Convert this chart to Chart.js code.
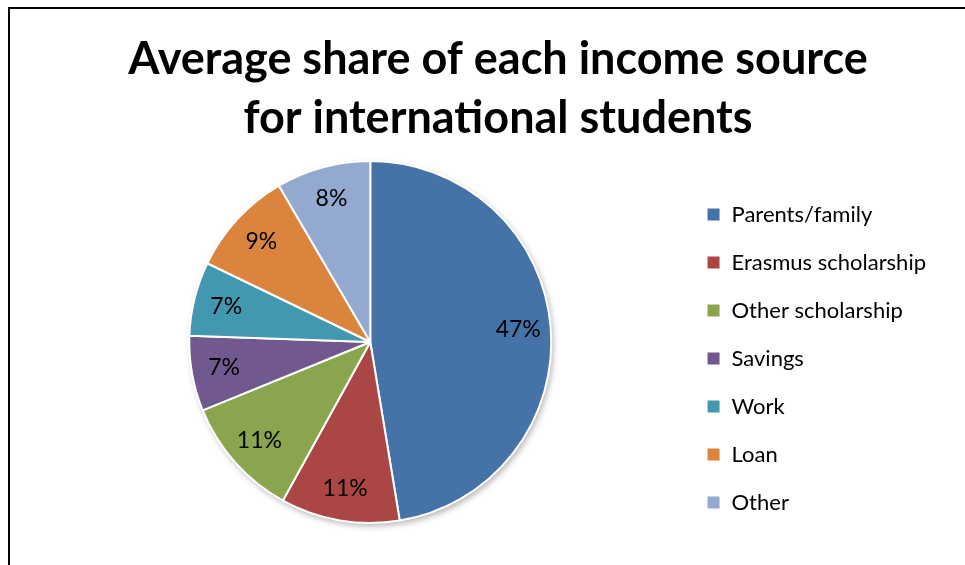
<!DOCTYPE html>
<html>
<head>
<meta charset="utf-8">
<script src="https://cdn.jsdelivr.net/npm/chart.js@4"></script>
<style>
  html, body { margin: 0; padding: 0; background: #fff; overflow: hidden; }
  body { width: 965px; height: 565px; position: relative; }
  #frame { position: absolute; left: 8px; top: 7px; width: 2000px; height: 2000px;
           border-left: 2px solid #000; border-top: 2px solid #000; }
  #chart { position: absolute; left: 10px; top: 0; }
</style>
</head>
<body>
<div id="frame"></div>
<canvas id="chart" width="962" height="565"></canvas>
<script>
const titleLine1 = "Average share of each income source";
const titleLine2 = "for international students";
const sources = ["Parents/family", "Erasmus scholarship", "Other scholarship", "Savings", "Work", "Loan", "Other"];
// shares in %; the labels show them rounded
const shares = [47.3, 10.6, 10.8, 6.7, 6.6, 9.4, 8.4];
const sliceColors = ["#4572A7", "#AA4643", "#89A54E", "#71588F", "#4198AF", "#DB843D", "#93A9CF"];

const fontFamily = "Lato, 'Open Sans', sans-serif";

// soft shadow under the pie, like the office chart
const pieShadow = {
    id: "pieShadow",
    beforeDatasetsDraw(chart) {
        const arc = chart.getDatasetMeta(0).data[0];
        if (!arc) return;
        const { x, y, outerRadius } = arc.getProps(["x", "y", "outerRadius"], true);
        const c = chart.ctx;
        c.save();
        c.shadowColor = "rgba(0,0,0,0.3)";
        c.shadowBlur = 6;
        c.shadowOffsetX = 2;
        c.shadowOffsetY = 3;
        c.fillStyle = "#fff";
        c.beginPath();
        c.arc(x, y, outerRadius, 0, Math.PI * 2);
        c.fill();
        c.restore();
    }
};

// percentage labels inside each slice
const sliceLabels = {
    id: "sliceLabels",
    afterDatasetsDraw(chart) {
        const c = chart.ctx;
        const values = chart.data.datasets[0].data;
        const total = values.reduce((a, b) => a + b, 0);
        c.save();
        c.font = "23px " + fontFamily;
        c.fillStyle = "#000";
        c.textAlign = "center";
        c.textBaseline = "middle";
        chart.getDatasetMeta(0).data.forEach((arc, i) => {
            const { x, y, startAngle, endAngle, outerRadius } =
                arc.getProps(["x", "y", "startAngle", "endAngle", "outerRadius"], true);
            const mid = (startAngle + endAngle) / 2;
            const r = outerRadius * 0.82;
            const pct = Math.round(values[i] / total * 100);
            c.fillText(pct + "%", x + Math.cos(mid) * r, y + Math.sin(mid) * r);
        });
        c.restore();
    }
};

new Chart(document.getElementById("chart"), {
    type: "pie",
    data: {
        labels: sources,
        datasets: [{
            data: shares,
            backgroundColor: sliceColors,
            borderColor: "#fff",
            borderWidth: 2,
            radius: 181,
            clip: false
        }]
    },
    options: {
        responsive: false,
        animation: false,
        layout: { padding: { left: 50, right: 36, top: 0, bottom: 24 } },
        plugins: {
            title: {
                display: true,
                text: titleLine1,
                color: "#000",
                font: { family: fontFamily, size: 45, weight: "bold", lineHeight: 1.1 },
                padding: { top: 35, bottom: 0 }
            },
            subtitle: {
                display: true,
                text: titleLine2,
                color: "#000",
                font: { family: fontFamily, size: 45, weight: "bold", lineHeight: 1.1 },
                padding: { top: 9, bottom: 0 }
            },
            legend: {
                position: "right",
                fullSize: false,
                title: { display: true, text: " ", padding: 0, font: { size: 33, lineHeight: 1 } },
                labels: {
                    color: "#000",
                    boxWidth: 14,
                    boxHeight: 14,
                    padding: 26,
                    font: { family: fontFamily, size: 22 }
                }
            },
            tooltip: { enabled: false }
        }
    },
    plugins: [pieShadow, sliceLabels]
});
</script>
</body>
</html>
